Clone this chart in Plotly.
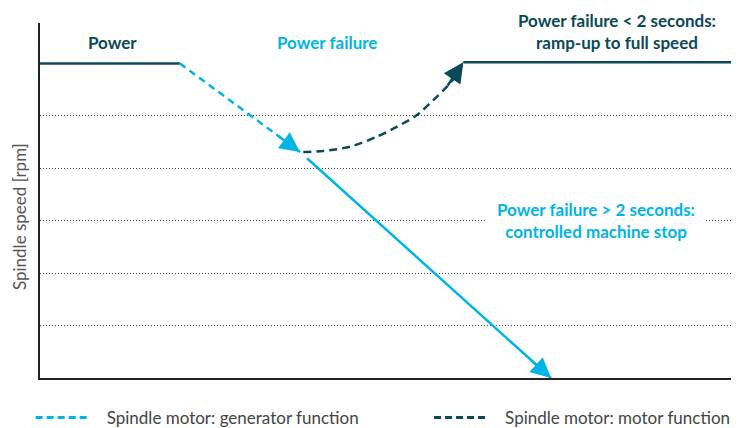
import plotly.graph_objects as go

LIGHT = "#00b4e6"
DARK = "#0b4858"
GRAY = "#444444"

# ---- data (time axis 0-100, speed in grid units) ----
power_t = [0, 20]
power_s = [6, 6]
gen_t = [20, 37.2]
gen_s = [6, 4.31]
stop_t = [38.2, 73.1]
stop_s = [4.19, 0]
motor_t = [37.67, 40.53, 44.35, 48.17, 51.03, 53.89, 56.27, 58.18, 59.61, 60.56]
motor_s = [4.31, 4.33, 4.41, 4.60, 4.79, 5.01, 5.30, 5.55, 5.78, 6.02]
full_t = [60.56, 100]
full_s = [6.02, 6.02]
grid_levels = [1, 2, 3, 4, 5]

legend_names = ["Spindle motor: generator function", "Spindle motor: motor function"]

fig = go.Figure()

fig.add_trace(go.Scatter(x=power_t, y=power_s, mode="lines",
                         line=dict(color=DARK, width=2.5), showlegend=False, hoverinfo="skip"))
fig.add_trace(go.Scatter(x=gen_t, y=gen_s, mode="lines",
                         line=dict(color=LIGHT, width=2.5, dash="7px,5px"), showlegend=False, hoverinfo="skip"))
fig.add_trace(go.Scatter(x=stop_t, y=stop_s, mode="lines",
                         line=dict(color=LIGHT, width=2.5), showlegend=False, hoverinfo="skip"))
fig.add_trace(go.Scatter(x=motor_t, y=motor_s, mode="lines",
                         line=dict(color=DARK, width=2.5, dash="8px,5px", shape="spline", smoothing=0.8),
                         showlegend=False, hoverinfo="skip"))
fig.add_trace(go.Scatter(x=full_t, y=full_s, mode="lines",
                         line=dict(color=DARK, width=2.5), showlegend=False, hoverinfo="skip"))

# legend-only entries
NB = "\u00a0\u00a0\u00a0"
fig.add_trace(go.Scatter(x=[None], y=[None], mode="lines", name=NB + legend_names[0],
                         line=dict(color=LIGHT, width=3, dash="7px,4px"), legend="legend"))
fig.add_trace(go.Scatter(x=[None], y=[None], mode="lines", name=NB + legend_names[1],
                         line=dict(color=DARK, width=3, dash="7px,4px"), legend="legend2"))

annotations = []


def arrow(tail_x, tail_y, tip_x, tip_y, color):
    return dict(x=tip_x, y=tip_y, ax=tail_x, ay=tail_y, xref="x", yref="y", axref="x", ayref="y",
                text="", showarrow=True, arrowhead=2, arrowsize=1.6, arrowwidth=2.5,
                arrowcolor=color, standoff=0)


annotations.append(arrow(34.0, 4.62, gen_t[-1], gen_s[-1], LIGHT))
annotations.append(arrow(70.0, 0.37, stop_t[-1], stop_s[-1], LIGHT))
annotations.append(arrow(motor_t[-3], motor_s[-3], motor_t[-1], motor_s[-1], DARK))

FONT = "Lato"
annotations += [
    dict(x=10.3, y=6.39, xref="x", yref="y", text="<b>Power</b>", showarrow=False,
         font=dict(family=FONT, size=17, color=DARK)),
    dict(x=41.1, y=6.39, xref="x", yref="y", text="<b>Power failure</b>", showarrow=False,
         font=dict(family=FONT, size=17, color=LIGHT)),
    dict(x=82.5, y=6.6, xref="x", yref="y",
         text="<b>Power failure < 2 seconds:</b><br><b>ramp-up to full speed</b>", showarrow=False,
         font=dict(family=FONT, size=17, color=DARK)),
    dict(x=79.5, y=3.0, xref="x", yref="y",
         text="<b>Power failure > 2 seconds:</b><br><b>controlled machine stop</b>", showarrow=False,
         font=dict(family=FONT, size=17, color=LIGHT), bgcolor="white", borderpad=10),
    dict(x=-0.030, y=0.4535, xref="paper", yref="paper", xanchor="center", yanchor="middle",
         text="Spindle speed [rpm]", showarrow=False, textangle=-90,
         font=dict(family=FONT, size=17, color="#555555")),
]

fig.update_layout(
    width=731, height=420,
    margin=dict(l=32, r=0, t=15, b=50),
    plot_bgcolor="white", paper_bgcolor="white",
    annotations=annotations,
    xaxis=dict(range=[0, 100], showgrid=False, zeroline=False, showticklabels=False, ticks="",
               showline=True, linecolor="#222222", linewidth=1.5),
    yaxis=dict(range=[0, 6.77], tickvals=grid_levels, showgrid=True, griddash="1px,2px",
               gridcolor="#444444", gridwidth=1, zeroline=False, showticklabels=False, ticks="",
               showline=True, linecolor="#222222", linewidth=1.5),
    legend=dict(xref="container", yref="container", x=0.031, y=0.0238, xanchor="left", yanchor="middle",
                orientation="h", font=dict(family=FONT, size=17, color=GRAY), itemwidth=53,
                bgcolor="rgba(0,0,0,0)"),
    legend2=dict(xref="container", yref="container", x=0.576, y=0.0238, xanchor="left", yanchor="middle",
                 orientation="h", font=dict(family=FONT, size=17, color=GRAY), itemwidth=53,
                 bgcolor="rgba(0,0,0,0)"),
)

fig.write_html("out.html")
